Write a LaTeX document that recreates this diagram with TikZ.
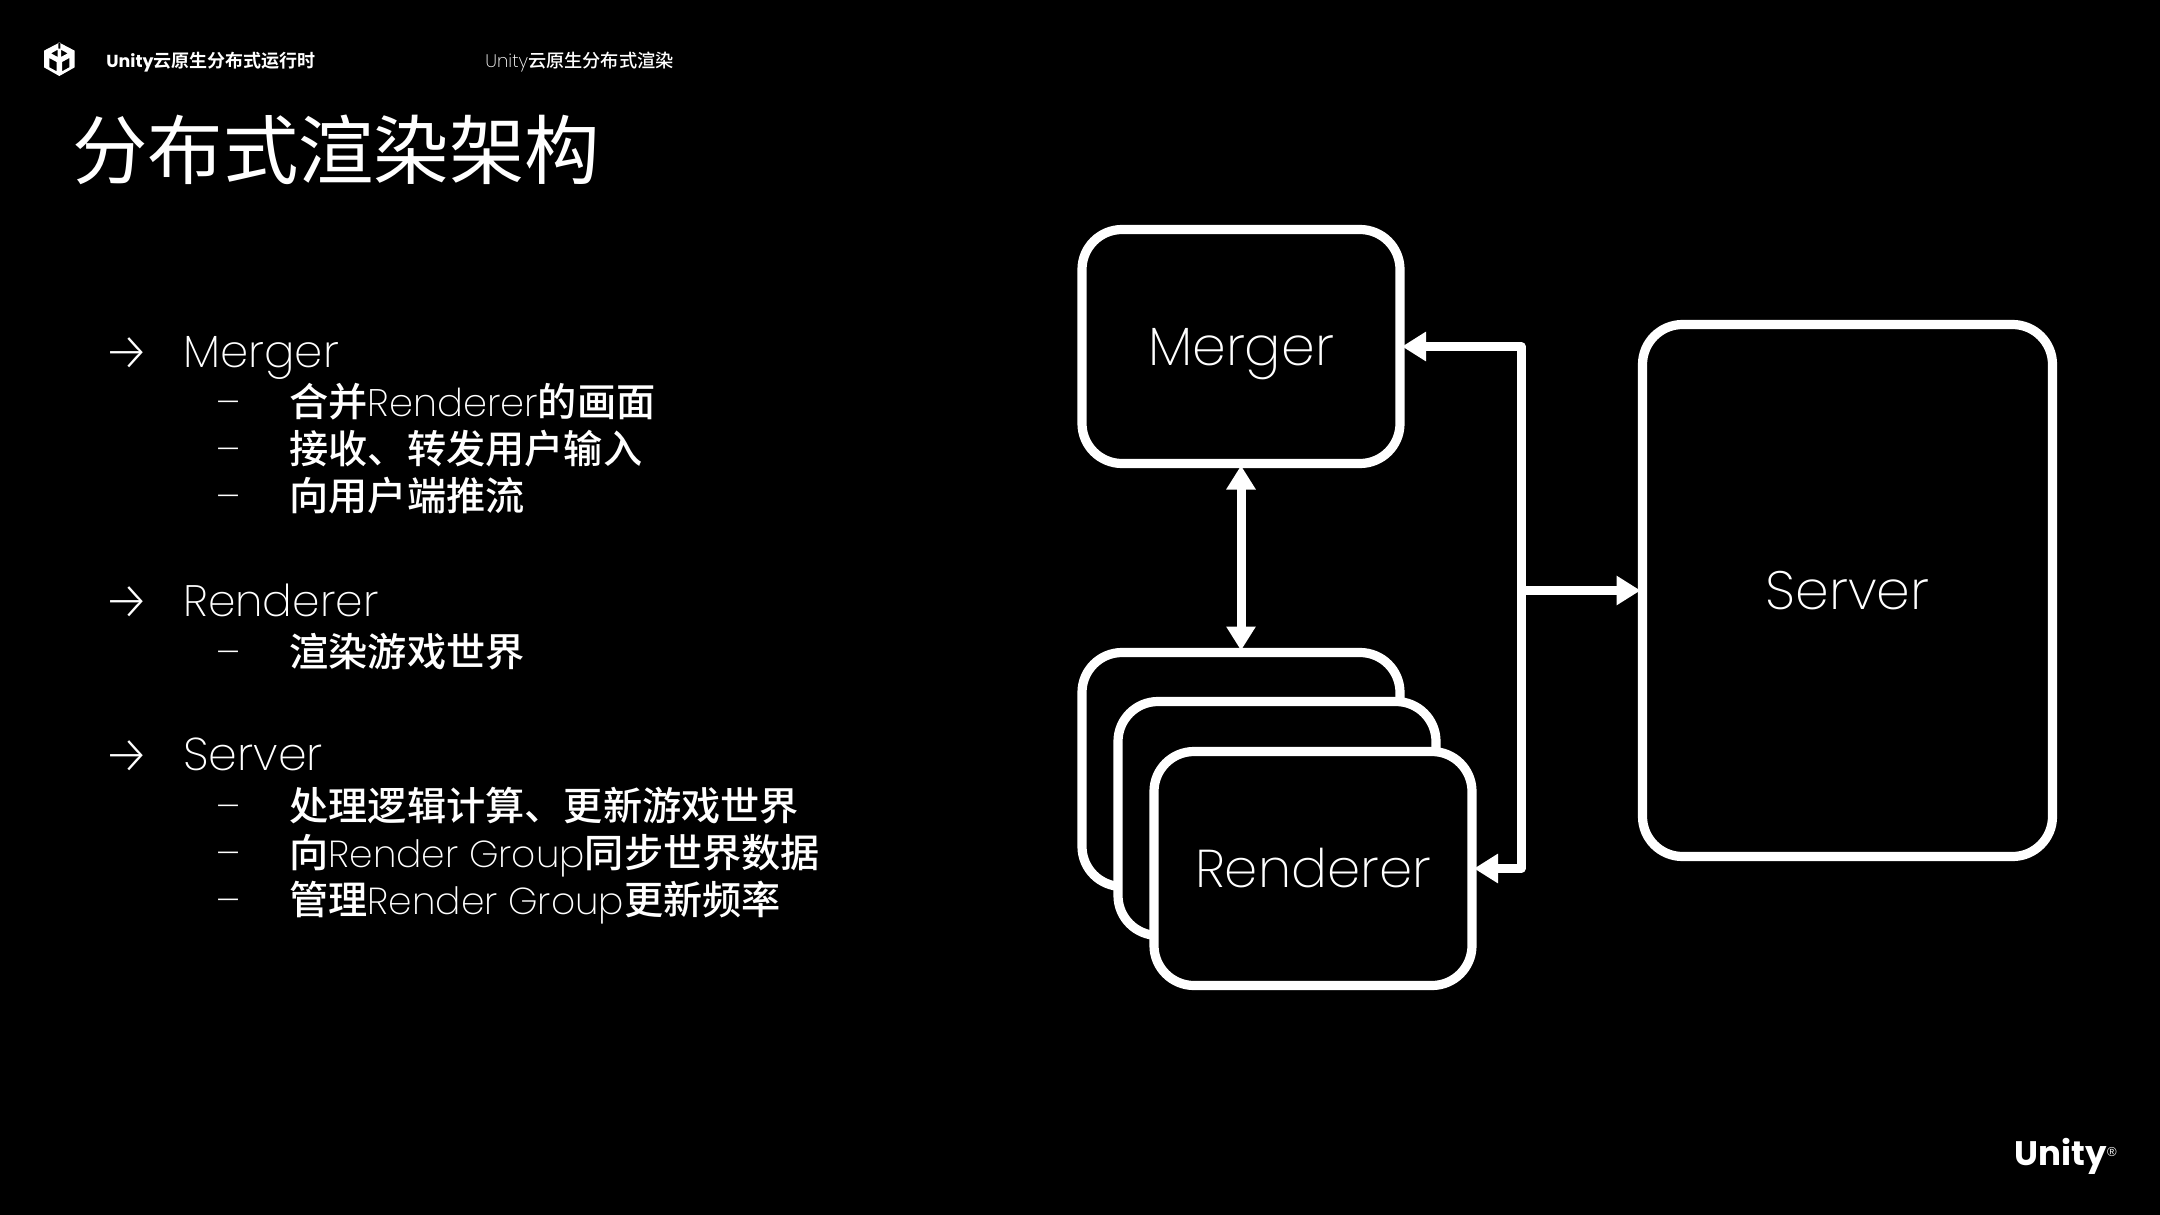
\documentclass[tikz,border=0pt]{standalone}
\usepackage{fontspec}
\usetikzlibrary{arrows.meta}
\setmainfont{Poppins ExtraLight}
\newfontfamily\cj{Noto Sans CJK SC}
\newfontfamily\cjm{Noto Sans CJK SC Medium}
\newfontfamily\cjb{Noto Sans CJK SC Bold}
\newfontfamily\pb{Poppins Bold}
\newfontfamily\ls{Liberation Sans}
\newfontfamily\dv{Fira Sans ExtraLight}
\newcommand{\cjt}[1]{{\cjm\fontsize{19.6}{22}\selectfont #1}}
\tikzset{
  rbox/.style={draw=white,fill=black,line width=4.6pt,rounded corners=20pt,inner sep=0pt,outer sep=1pt,text=white,text height=19pt,text depth=0pt,font=\fontsize{27}{30}\selectfont},
  smallbox/.style={rbox,minimum width=159pt,minimum height=117pt},
  conn/.style={draw=white,line width=4.5pt,line join=round},
  tipL/.tip={Triangle[length=12pt,width=14pt]},
  head/.style={anchor=base west,text=white,inner sep=0pt,font=\fontsize{23}{26}\selectfont},
  sub/.style={anchor=base west,text=white,inner sep=0pt,font=\fontsize{18.8}{22}\selectfont},
  bul/.style={anchor=base west,text=white,inner sep=0pt,font=\dv\fontsize{27}{29}\selectfont},
  dashb/.style={anchor=base west,text=white,inner sep=0pt,font=\fontsize{19.5}{22}\selectfont},
}
\begin{document}
\begin{tikzpicture}[x=0.5pt,y=-0.5pt]
\useasboundingbox (0,0) rectangle (2160,1215);
\fill[black] (0,0) rectangle (2160,1215);
% logo
\begin{scope}[shift={(30,30)},x=0.1667pt,y=-0.1667pt]
\fill[white,even odd rule] (88,38) -- (134,62) -- (134,112) -- (88,138) -- (42,112) -- (42,62) -- cycle
 (85,38) -- (91,38) -- (91,56) -- (85,56) -- cycle
 (83,59) -- (83,81) -- (63,70) -- cycle
 (93,59) -- (93,81) -- (113,70) -- cycle
 (58,84) -- (80,96) -- (80,124) -- (58,112) -- cycle
 (118,84) -- (96,96) -- (96,124) -- (118,112) -- cycle;
\end{scope}
\node[anchor=base west,text=white,inner sep=0pt,font=\pb\fontsize{8.7}{10}\selectfont] (t1) at (106,67) {Unity{\cjb\fontsize{9}{10}\selectfont 云原生分布式运行时}};
\node[anchor=base west,text=white,inner sep=0pt,font=\fontsize{9.1}{10}\selectfont] (t2) at (485,67) {Unity{\cjm\fontsize{9.1}{10}\selectfont 云原生分布式渲染}};
\node[anchor=base west,text=white,inner sep=0pt,font=\cj\fontsize{37.7}{40}\selectfont] (title) at (72,178) {分布式渲染架构};
% list
\node[bul] (a1) at (102.5,370) {→};
\node[head,font=\fontsize{22.6}{26}\selectfont] (h1) at (183,367) {Merger};
\node[dashb] (d11) at (216,416) {–};
\node[sub,font=\fontsize{19.2}{22}\selectfont] (s11) at (289,416) {\cjt{合并}Renderer\cjt{的画面}};
\node[dashb] (d12) at (216,463) {–};
\node[sub] (s12) at (289,463) {\cjt{接收、转发用户输入}};
\node[dashb] (d13) at (216,510) {–};
\node[sub] (s13) at (289,510) {\cjt{向用户端推流}};
\node[bul] (a2) at (102.5,619) {→};
\node[head,font=\fontsize{22}{26}\selectfont] (h2) at (183,616) {Renderer};
\node[dashb] (d21) at (216,666) {–};
\node[sub] (s21) at (289,666) {\cjt{渲染游戏世界}};
\node[bul] (a3) at (102.5,773) {→};
\node[head] (h3) at (183,770) {Server};
\node[dashb] (d31) at (216,820) {–};
\node[sub] (s31) at (289,820) {\cjt{处理逻辑计算、更新游戏世界}};
\node[dashb] (d32) at (216,867) {–};
\node[sub] (s32) at (289,867) {\cjt{向}Render Group\cjt{同步世界数据}};
\node[dashb] (d33) at (216,914) {–};
\node[sub] (s33) at (289,914) {\cjt{管理}Render Group\cjt{更新频率}};
% boxes
\node[smallbox] (merger) at (1241,346.5) {Merger};
\node[smallbox] (r1) at (1241,769.5) {};
\node[smallbox] (r2) at (1277,818.5) {};
\node[smallbox,font=\fontsize{26.6}{30}\selectfont] (r3) at (1313,868.5) {Renderer};
\node[rbox,minimum width=205pt,minimum height=266pt] (server) at (1847.5,590.5) {Server};
% connectors
\coordinate (bt) at (1521,346.5);
\coordinate (bb) at (1521,868.5);
\coordinate (bm) at (1521,590.5);
\draw[conn,{tipL}-{tipL}] (merger.south) -- (r1.north);
\draw[conn,{tipL}-{tipL}] (merger.east) -- (bt) -- (bb) -- (r3.east);
\draw[conn,-{tipL}] (bm) -- (server.west);
% brand
\node[anchor=base west,text=white,inner sep=0pt,font=\pb\fontsize{17}{20}\selectfont] (brand) at (2014,1165) {Unity};
\node[text=white,inner sep=0pt,font=\ls\fontsize{6.5}{7}\selectfont] (reg) at (2112,1152) {®};
\end{tikzpicture}
\end{document}
